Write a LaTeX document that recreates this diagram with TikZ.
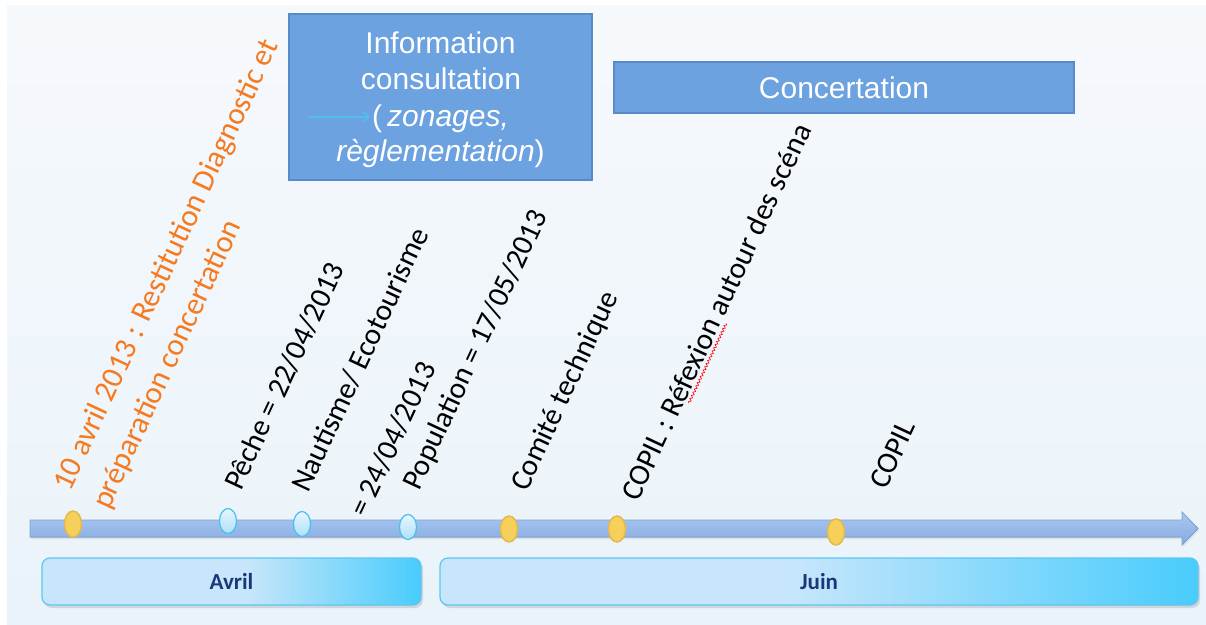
\documentclass[tikz,border=0pt]{standalone}
\usepackage{fontspec}
\newfontfamily\calib{Carlito}
\newfontfamily\helv{Liberation Sans}
\usetikzlibrary{shapes.geometric,shadows,decorations.pathmorphing,arrows.meta}
\definecolor{bgtop}{RGB}{246,249,252}
\definecolor{bgbot}{RGB}{234,243,250}
\definecolor{boxfill}{RGB}{108,162,224}
\definecolor{boxedge}{RGB}{88,138,202}
\definecolor{orangetxt}{RGB}{245,122,32}
\definecolor{mlight}{RGB}{200,230,251}
\definecolor{mcyan}{RGB}{72,204,252}
\definecolor{medge}{RGB}{92,198,242}
\definecolor{navy}{RGB}{24,56,122}
\definecolor{bartop}{RGB}{170,200,242}
\definecolor{barbot}{RGB}{134,170,224}
\definecolor{baredge}{RGB}{126,162,214}
\definecolor{yfill}{RGB}{246,208,90}
\definecolor{yedge}{RGB}{226,186,80}
\definecolor{bfill}{RGB}{200,232,252}
\definecolor{bedge}{RGB}{70,192,240}
\definecolor{arrcyan}{RGB}{80,190,240}
\pgfdeclarehorizontalshading{avrilsh}{100bp}{color(0bp)=(mlight); color(25bp)=(mlight); color(52bp)=(mlight); color(75bp)=(mcyan); color(100bp)=(mcyan)}
\pgfdeclarehorizontalshading{juinsh}{100bp}{color(0bp)=(mlight); color(25bp)=(mlight); color(48bp)=(mlight); color(75bp)=(mcyan); color(100bp)=(mcyan)}
\begin{document}
\begin{tikzpicture}[x=1pt,y=1pt,
  lbl/.style={anchor=base west, rotate=65, inner sep=0pt, font=\calib\fontsize{30}{36}\selectfont},
  olbl/.style={lbl, text=orangetxt, font=\calib\fontsize{31}{36}\selectfont},
  bluebox/.style={rectangle, fill=boxfill, draw=boxedge, line width=1.5pt, inner sep=0pt},
  boxtxt/.style={anchor=base, inner sep=0pt, text=white, font=\helv\fontsize{30}{36}\selectfont},
  ydot/.style={ellipse, fill=yfill, draw=yedge, line width=1.5pt, minimum width=17pt, minimum height=26pt, inner sep=0pt},
  bdot/.style={ellipse, top color=white!60!bfill, bottom color=bfill!80!bedge, draw=bedge, line width=1.2pt, minimum width=17pt, minimum height=25pt, inner sep=0pt},
  month/.style={rectangle, rounded corners=8pt, draw=medge, line width=1.2pt, minimum height=47pt, inner sep=0pt,
    drop shadow={opacity=0.25, shadow xshift=2pt, shadow yshift=-3pt},
    text=navy, font=\calib\bfseries\fontsize{23}{26}\selectfont},
  squig/.style={draw=red, line width=0.6pt, decorate, decoration={snake, amplitude=1.2pt, segment length=3.5pt}}
]
\useasboundingbox (0,0) rectangle (1206,624);
\fill[white] (0,0) rectangle (1206,624);
\shade[top color=bgtop, bottom color=bgbot] (7,0) rectangle (1206,618);

% top boxes
\node[bluebox, minimum width=303pt, minimum height=166pt] (info) at (440.5,527) {};
\node[boxtxt] (i1) at (440.5,570) {Information};
\node[boxtxt] (i2) at (441,534) {consultation};
\node[boxtxt, anchor=base west] (i3) at (372,497) {(\,\textit{zonages,}};
\node[boxtxt] (i4) at (440.5,462) {\textit{règlementation})};
\coordinate (a1) at (308,507);
\coordinate (a2) at (370,507);
\draw[arrcyan, line width=1.6pt, -{Straight Barb[length=6pt,width=11pt]}] (a1) -- (a2);

% rotated labels
\node[olbl] (l10a) at (70,131) {10 avril 2013 : Restitution Diagnostic et};
\node[olbl] (l10b) at (109,113) {préparation concertation};
\node[lbl] (peche) at (241,132) {Pêche = 22/04/2013};
\node[lbl] (nauta) at (308,130) {Nautisme/ Ecotourisme};
\node[lbl] (nautb) at (366,105) {= 24/04/2013};
\node[lbl] (popu) at (419,132) {Population = 17/05/2013};
\node[lbl] (comite) at (527,131) {Comité technique};
\node[lbl] (copilr) at (638,121) {COPIL : Réfexion autour des scéna};
\node[lbl] (copil) at (886,133) {COPIL};
\begin{scope}[shift={(copilr.base west)}, rotate=65]
  \path[squig] (112,-4) -- (200,-4);
\end{scope}

\node[bluebox, minimum width=460pt, minimum height=51pt, text=white, font=\helv\fontsize{30}{34}\selectfont] (conc) at (844,536.5) {Concertation};

% timeline
\filldraw[top color=bartop, bottom color=barbot, draw=baredge, line width=0.8pt,
  drop shadow={opacity=0.15, shadow xshift=1pt, shadow yshift=-2pt}]
  (30,104) -- (1182,104) -- (1182,112) -- (1198,95.5) -- (1182,79) -- (1182,87) -- (30,87) -- cycle;
\node[ydot] (d1) at (73,100) {};
\node[bdot] (d2) at (228,103) {};
\node[bdot] (d3) at (302,100) {};
\node[bdot] (d4) at (408,97) {};
\node[ydot] (d5) at (509,95) {};
\node[ydot] (d6) at (617,95) {};
\node[ydot] (d7) at (836,92) {};

% months
\node[month, shading=avrilsh, minimum width=379pt] (avril) at (231.5,42.5) {Avril};
\node[month, shading=juinsh, minimum width=758pt] (juin) at (819,42.5) {Juin};
\end{tikzpicture}
\end{document}
